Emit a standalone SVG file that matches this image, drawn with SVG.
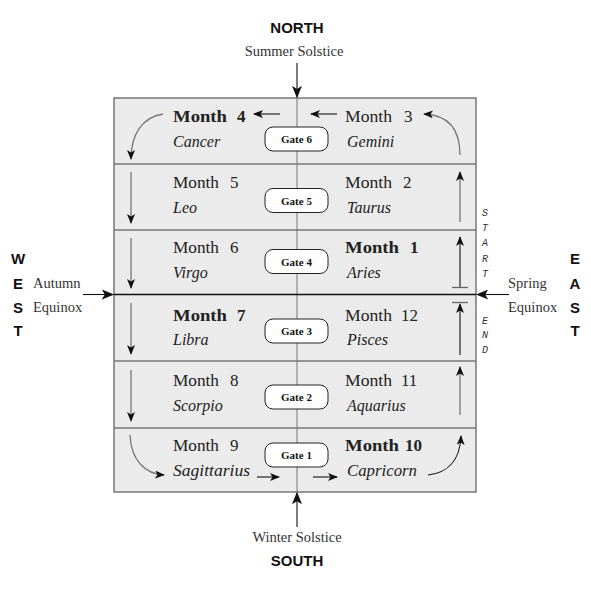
<svg xmlns="http://www.w3.org/2000/svg" width="591" height="591" viewBox="0 0 591 591">
<style>
.serif{font-family:"Liberation Serif","Times New Roman",serif;fill:#222}
.m{font-size:17px}
.b{font-weight:bold}
.it{font-style:italic;font-size:16px}
.sans{font-family:"Liberation Sans",Arial,sans-serif;font-weight:bold;font-size:15px;fill:#111}
.lab{font-family:"Liberation Serif","Times New Roman",serif;font-size:14.5px;fill:#333}
.gate rect{fill:#fff;stroke:#222;stroke-width:1}
.gate text{font-family:"Liberation Serif","Times New Roman",serif;font-weight:bold;font-size:11px;fill:#111;text-anchor:middle}
.vt{font-family:"Liberation Mono","Courier New",monospace;font-style:italic;font-size:10px;fill:#333;text-anchor:middle}
.ga{fill:none;stroke:#777;stroke-width:1.3;marker-end:url(#ah)}
.ka{fill:none;stroke:#111;stroke-width:1.1;marker-end:url(#ah)}
</style>
<defs>
<marker id="ah" viewBox="0 0 10 8" refX="9" refY="4" markerWidth="10" markerHeight="8" markerUnits="userSpaceOnUse" orient="auto">
<path d="M0,0 L10,4 L0,8 L2.5,4 z" fill="#111"/>
</marker>
<marker id="ahb" viewBox="0 0 10 8" refX="9" refY="4" markerWidth="13" markerHeight="10" markerUnits="userSpaceOnUse" orient="auto">
<path d="M0,0 L10,4 L0,8 L2.5,4 z" fill="#111"/>
</marker>
</defs>

<g id="frame">
<rect x="114" y="98" width="362" height="394" fill="#ebebeb" stroke="#777" stroke-width="1.5"/>
<line x1="114" y1="164" x2="476" y2="164" stroke="#777" stroke-width="1.5"/>
<line x1="114" y1="230" x2="476" y2="230" stroke="#777" stroke-width="1.5"/>
<line x1="114" y1="361" x2="476" y2="361" stroke="#777" stroke-width="1.5"/>
<line x1="114" y1="428" x2="476" y2="428" stroke="#777" stroke-width="1.5"/>
<line x1="297" y1="98" x2="297" y2="492" stroke="#777" stroke-width="1"/>
<line x1="114" y1="294.5" x2="476" y2="294.5" stroke="#111" stroke-width="1.5"/>
</g>

<g id="connectors">
<line x1="297" y1="63" x2="297" y2="97" class="ka" style="marker-end:url(#ahb)"/>
<line x1="297" y1="527" x2="297" y2="493" class="ka" style="marker-end:url(#ahb)"/>
<line x1="83" y1="294.5" x2="113" y2="294.5" class="ka" style="marker-end:url(#ahb)"/>
<line x1="509" y1="294.5" x2="477" y2="294.5" class="ka" style="marker-end:url(#ahb)"/>
<path class="ga" d="M163,114 C142,117 131,135 131,159"/>
<line class="ga" x1="131" y1="172" x2="131" y2="223"/>
<line class="ga" x1="131" y1="238" x2="131" y2="288"/>
<line class="ga" x1="131" y1="303" x2="131" y2="354"/>
<line class="ga" x1="131" y1="370" x2="131" y2="421"/>
<path class="ga" d="M130,435 C131,460 145,474 164,475"/>
<line class="ka" x1="257" y1="477" x2="279" y2="477"/>
<line class="ka" x1="313" y1="477" x2="337" y2="477"/>
<path class="ka" d="M428,475 C448,473 460,460 461,436"/>
<line class="ga" x1="460" y1="415" x2="460" y2="367"/>
<line class="ka" x1="460" y1="355" x2="460" y2="304"/>
<line x1="452" y1="302.5" x2="468" y2="302.5" stroke="#666" stroke-width="1.3"/>
<line class="ka" x1="460" y1="287" x2="460" y2="237"/>
<line x1="452" y1="287.5" x2="468" y2="287.5" stroke="#666" stroke-width="1.3"/>
<line class="ga" x1="460" y1="222" x2="460" y2="172"/>
<path class="ga" d="M460,155 C460,130 449,115 424,114"/>
<line class="ka" x1="337" y1="114" x2="311" y2="114"/>
<line class="ka" x1="280" y1="114" x2="254" y2="114"/>
</g>

<g id="gate6" class="gate"><rect x="265" y="127" width="63" height="24" rx="8"/><text x="296.5" y="143">Gate 6</text></g>
<g id="gate5" class="gate"><rect x="265" y="188.5" width="63" height="24" rx="8"/><text x="296.5" y="204.5">Gate 5</text></g>
<g id="gate4" class="gate"><rect x="265" y="249.5" width="63" height="24" rx="8"/><text x="296.5" y="265.5">Gate 4</text></g>
<g id="gate3" class="gate"><rect x="265" y="319" width="63" height="24" rx="8"/><text x="296.5" y="335">Gate 3</text></g>
<g id="gate2" class="gate"><rect x="265" y="385" width="63" height="24" rx="8"/><text x="296.5" y="401">Gate 2</text></g>
<g id="gate1" class="gate"><rect x="265" y="443" width="63" height="24" rx="8"/><text x="296.5" y="459">Gate 1</text></g>

<g id="month4"><text class="serif m b" x="173" y="122" textLength="54" lengthAdjust="spacingAndGlyphs">Month</text><text class="serif m b" x="237" y="122">4</text><text class="serif it" x="173" y="147">Cancer</text></g>
<g id="month3"><text class="serif m" x="345" y="122" textLength="47" lengthAdjust="spacingAndGlyphs">Month</text><text class="serif m" x="404" y="122">3</text><text class="serif it" x="347" y="147">Gemini</text></g>
<g id="month5"><text class="serif m" x="173" y="188" textLength="46" lengthAdjust="spacingAndGlyphs">Month</text><text class="serif m" x="230" y="188">5</text><text class="serif it" x="173" y="213">Leo</text></g>
<g id="month2"><text class="serif m" x="345" y="188" textLength="47" lengthAdjust="spacingAndGlyphs">Month</text><text class="serif m" x="403" y="188">2</text><text class="serif it" x="347" y="213">Taurus</text></g>
<g id="month6"><text class="serif m" x="173" y="253" textLength="46" lengthAdjust="spacingAndGlyphs">Month</text><text class="serif m" x="230" y="253">6</text><text class="serif it" x="173" y="278">Virgo</text></g>
<g id="month1"><text class="serif m b" x="345" y="253" textLength="54" lengthAdjust="spacingAndGlyphs">Month</text><text class="serif m b" x="410" y="253">1</text><text class="serif it" x="347" y="278">Aries</text></g>
<g id="month7"><text class="serif m b" x="173" y="321" textLength="54" lengthAdjust="spacingAndGlyphs">Month</text><text class="serif m b" x="237" y="321">7</text><text class="serif it" x="173" y="345">Libra</text></g>
<g id="month12"><text class="serif m" x="345" y="321" textLength="47" lengthAdjust="spacingAndGlyphs">Month</text><text class="serif m" x="401" y="321">12</text><text class="serif it" x="347" y="345">Pisces</text></g>
<g id="month8"><text class="serif m" x="173" y="386" textLength="46" lengthAdjust="spacingAndGlyphs">Month</text><text class="serif m" x="230" y="386">8</text><text class="serif it" x="173" y="411">Scorpio</text></g>
<g id="month11"><text class="serif m" x="345" y="386" textLength="47" lengthAdjust="spacingAndGlyphs">Month</text><text class="serif m" x="401" y="386">11</text><text class="serif it" x="347" y="411">Aquarius</text></g>
<g id="month9"><text class="serif m" x="173" y="451" textLength="46" lengthAdjust="spacingAndGlyphs">Month</text><text class="serif m" x="230" y="451">9</text><text class="serif it" x="173" y="476" textLength="77" lengthAdjust="spacingAndGlyphs">Sagittarius</text></g>
<g id="month10"><text class="serif m b" x="345" y="451" textLength="54" lengthAdjust="spacingAndGlyphs">Month</text><text class="serif m b" x="405" y="451">10</text><text class="serif it" x="347" y="476" textLength="70" lengthAdjust="spacingAndGlyphs">Capricorn</text></g>

<g id="north"><text class="sans" x="297" y="33" text-anchor="middle">NORTH</text><text class="lab" x="294" y="56" text-anchor="middle">Summer  Solstice</text></g>
<g id="south"><text class="sans" x="297" y="566" text-anchor="middle">SOUTH</text><text class="lab" x="297" y="542" text-anchor="middle">Winter  Solstice</text></g>
<g id="west"><text class="sans" x="18" y="264" text-anchor="middle">W</text><text class="sans" x="18" y="289" text-anchor="middle">E</text><text class="sans" x="18" y="313" text-anchor="middle">S</text><text class="sans" x="18" y="336" text-anchor="middle">T</text>
<text class="lab" x="33" y="288">Autumn</text><text class="lab" x="33" y="312">Equinox</text></g>
<g id="east"><text class="sans" x="575" y="264" text-anchor="middle">E</text><text class="sans" x="575" y="289" text-anchor="middle">A</text><text class="sans" x="575" y="313" text-anchor="middle">S</text><text class="sans" x="575" y="336" text-anchor="middle">T</text>
<text class="lab" x="508" y="288">Spring</text><text class="lab" x="508" y="312">Equinox</text></g>
<g id="start"><text class="vt" x="485" y="216">S</text><text class="vt" x="485" y="231">T</text><text class="vt" x="485" y="246">A</text><text class="vt" x="485" y="262">R</text><text class="vt" x="485" y="277">T</text></g>
<g id="end"><text class="vt" x="485" y="324">E</text><text class="vt" x="485" y="338">N</text><text class="vt" x="485" y="353">D</text></g>
</svg>
